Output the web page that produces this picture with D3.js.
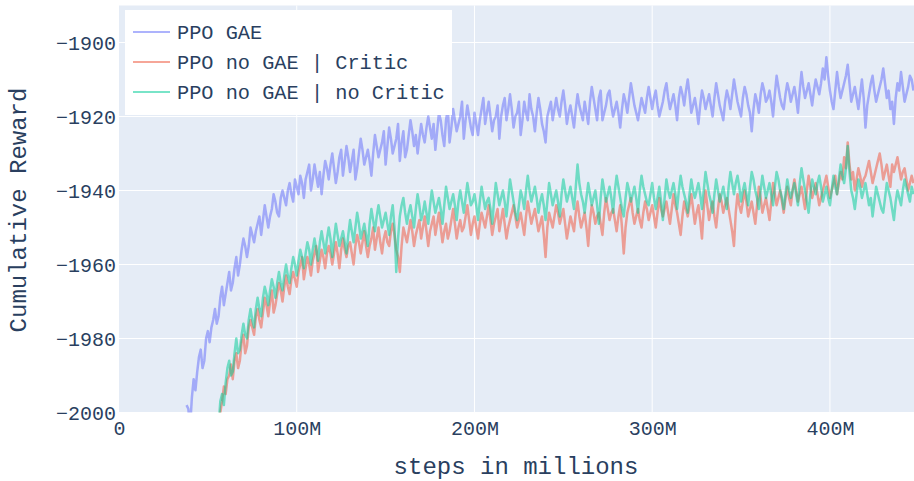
<!DOCTYPE html>
<html>
<head>
<meta charset="utf-8">
<script src="https://cdn.jsdelivr.net/npm/d3@7"></script>
<style>
  html, body { margin: 0; padding: 0; background: #fff; }
  svg { display: block; }
  text { font-family: "Liberation Mono", "DejaVu Sans Mono", monospace; fill: #2a3f5f; }
</style>
</head>
<body>
<svg id="chart" width="914" height="481"></svg>
<script>
// ---- data ----
const seriesNames = ["PPO GAE", "PPO no GAE | Critic", "PPO no GAE | no Critic"];
const stepMillions = 1;          // sampling interval of the runs (millions of steps)
const gaeStart = 38;             // first sampled step (millions)
const criticStart = 56;
const noCriticStart = 56;

const gaeValues = [
  -1998,-1999,-2004,-1996,-1991,-1994,-1989,-1985,-1983,-1988,
  -1986,-1980,-1978,-1981,-1977,-1975,-1972,-1976,-1974,-1969,
  -1966,-1971,-1968,-1965,-1962,-1967,-1965,-1961,-1958,-1963,
  -1960,-1956,-1953,-1955,-1958,-1955,-1950,-1952,-1954,-1951,
  -1949,-1947,-1952,-1948,-1944,-1947,-1950,-1947,-1945,-1941,
  -1943,-1946,-1947,-1942,-1940,-1942,-1944,-1940,-1938,-1941,
  -1943,-1937,-1939,
  -1941,-1936,-1938,-1942,-1937,-1935,-1933,-1940,-1937,-1933,
  -1936,-1939,-1935,-1941,-1936,-1932,-1934,-1937,-1933,-1930,
  -1934,-1938,-1935,-1931,-1929,-1936,-1932,-1928,-1931,-1935,
  -1932,-1929,-1937,-1934,-1930,-1926,-1929,-1933,-1931,-1929,
  -1932,-1936,-1930,-1925,-1928,-1931,-1929,-1927,-1924,-1933,
  -1928,-1923,-1926,-1930,-1928,-1926,-1922,-1932,-1927,-1924,
  -1931,-1929,-1925,-1921,-1924,-1928,-1925,-1930,-1926,-1922,
  -1925,-1927,-1923,-1920,-1923,-1926,-1922,-1929,-1924,-1919,
  -1921,-1925,-1928,-1921,-1918,-1927,-1923,-1918,-1921,-1924,
  -1922,-1920,-1916,-1926,-1921,-1917,-1920,-1923,-1925,-1919,
  -1922,-1925,-1921,-1918,-1915,-1922,-1919,-1916,-1920,-1924,
  -1921,-1920,-1917,-1926,-1920,-1917,-1915,-1921,-1918,-1914,
  -1918,-1923,-1920,-1919,-1916,-1925,-1921,-1916,-1919,-1921,
  -1914,-1918,-1920,-1924,-1919,-1915,-1918,-1922,-1924,-1927,
  -1920,-1918,-1916,-1921,-1918,-1915,-1918,-1920,-1916,-1913,
  -1917,-1922,-1919,-1917,-1920,-1923,-1918,-1914,-1917,-1919,
  -1921,-1916,-1919,-1922,-1916,-1912,-1915,-1918,-1921,-1915,
  -1913,-1921,-1919,-1917,-1914,-1913,-1917,-1920,-1918,-1916,
  -1919,-1923,-1918,-1914,-1916,-1919,-1915,-1911,-1914,-1917,
  -1919,-1921,-1918,-1915,-1917,-1919,-1915,-1912,-1915,-1918,
  -1915,-1913,-1917,-1920,-1918,-1916,-1913,-1911,-1915,-1918,
  -1916,-1914,-1917,-1921,-1915,-1912,-1914,-1917,-1913,-1910,
  -1914,-1919,-1917,-1915,-1918,-1922,-1917,-1913,-1915,-1918,
  -1916,-1914,-1917,-1920,-1915,-1911,-1914,-1917,-1919,-1921,
  -1916,-1913,-1915,-1918,-1914,-1910,-1913,-1916,-1918,-1920,
  -1915,-1912,-1914,-1917,-1919,-1924,-1918,-1914,-1916,-1919,
  -1914,-1911,-1913,-1916,-1915,-1913,-1916,-1920,-1914,-1909,
  -1912,-1915,-1917,-1918,-1914,-1911,-1913,-1916,-1914,-1912,
  -1915,-1919,-1913,-1908,-1912,-1915,-1913,-1911,-1914,-1917,
  -1913,-1910,-1912,-1914,-1911,-1907,-1910,-1904,-1909,-1913,
  -1916,-1918,-1913,-1908,-1912,-1915,-1913,-1911,-1909,-1906,
  -1911,-1916,-1914,-1912,-1915,-1918,-1914,-1910,-1915,-1923,
  -1917,-1914,-1911,-1909,-1913,-1916,-1914,-1912,-1910,-1907,
  -1911,-1915,-1913,-1918,-1916,-1922,-1915,-1911,-1913,-1908,
  -1912,-1916,-1914,-1912,-1909,-1910,-1913
];

const criticValues = [
  -2004,-2000,-1997,-1993,-1995,-1991,-1990,-1987,-1991,-1986,
  -1984,-1988,-1986,-1981,-1979,-1984,-1982,-1977,-1975,-1977,
  -1979,-1974,-1972,-1975,-1977,-1973,-1969,-1971,-1974,-1970,
  -1967,-1973,-1971,-1968,-1965,-1967,-1970,-1966,-1963,-1966,
  -1968,-1964,-1962,-1964,-1966,
  -1962,-1960,-1958,-1964,-1961,-1958,-1960,-1963,-1959,-1957,
  -1955,-1962,-1959,-1956,-1958,-1961,-1957,-1955,-1957,-1960,
  -1957,-1954,-1957,-1961,-1956,-1953,-1956,-1958,-1955,-1954,
  -1957,-1960,-1955,-1952,-1954,-1957,-1954,-1951,-1955,-1958,
  -1955,-1953,-1950,-1956,-1953,-1950,-1954,-1957,-1953,-1951,
  -1954,-1955,-1951,-1949,-1952,-1956,-1958,-1962,-1955,-1950,
  -1952,-1954,-1951,-1948,-1951,-1955,-1952,-1950,-1948,-1953,
  -1950,-1947,-1951,-1955,-1951,-1949,-1947,-1952,-1949,-1946,
  -1950,-1954,-1951,-1949,-1953,-1951,-1948,-1945,-1949,-1953,
  -1950,-1948,-1951,-1950,-1947,-1944,-1948,-1952,-1949,-1947,
  -1950,-1953,-1949,-1946,-1948,-1950,-1947,-1944,-1948,-1952,
  -1949,-1947,-1945,-1951,-1948,-1945,-1949,-1953,-1950,-1948,
  -1946,-1944,-1947,-1950,-1948,-1946,-1949,-1952,-1947,-1943,
  -1946,-1949,-1947,-1945,-1948,-1951,-1949,-1947,-1952,-1958,
  -1950,-1946,-1948,-1950,-1947,-1944,-1946,-1949,-1947,-1945,
  -1949,-1953,-1950,-1947,-1949,-1951,-1946,-1943,-1947,-1950,
  -1948,-1946,-1950,-1955,-1948,-1944,-1946,-1949,-1947,-1946,
  -1949,-1952,-1946,-1942,-1945,-1948,-1946,-1945,-1948,-1951,
  -1947,-1944,-1950,-1957,-1950,-1946,-1944,-1942,-1946,-1949,
  -1947,-1945,-1948,-1950,-1946,-1943,-1945,-1948,-1946,-1944,
  -1947,-1950,-1946,-1942,-1945,-1947,-1945,-1943,-1946,-1949,
  -1945,-1941,-1944,-1946,-1949,-1952,-1947,-1943,-1945,-1947,
  -1944,-1941,-1945,-1949,-1946,-1944,-1948,-1953,-1945,-1940,
  -1944,-1948,-1945,-1943,-1947,-1950,-1945,-1941,-1943,-1946,
  -1944,-1942,-1945,-1948,-1951,-1955,-1946,-1941,-1944,-1946,
  -1943,-1940,-1943,-1947,-1945,-1943,-1946,-1949,-1944,-1939,
  -1942,-1946,-1944,-1942,-1945,-1948,-1943,-1938,-1941,-1944,
  -1942,-1940,-1943,-1946,-1942,-1939,-1942,-1944,-1940,-1937,
  -1940,-1943,-1941,-1939,-1942,-1945,-1940,-1936,-1939,-1942,
  -1940,-1938,-1941,-1944,-1942,-1940,-1938,-1936,-1939,-1942,
  -1940,-1938,-1936,-1941,-1938,-1935,-1937,-1931,-1934,-1927,
  -1933,-1937,-1935,-1940,-1937,-1934,-1936,-1939,-1937,-1936,
  -1934,-1932,-1935,-1938,-1936,-1934,-1932,-1930,-1933,-1937,
  -1935,-1933,-1936,-1939,-1933,-1935,-1933,-1931,-1934,-1937,
  -1935,-1934,-1937,-1940,-1938,-1936,-1938
];

const noCriticValues = [
  -2004,-1997,-1995,-1998,-1992,-1988,-1986,-1990,-1989,-1984,
  -1980,-1984,-1983,-1979,-1976,-1979,-1980,-1975,-1972,-1975,
  -1977,-1972,-1969,-1972,-1974,-1969,-1966,-1968,-1971,-1967,
  -1964,-1966,-1969,-1965,-1962,-1965,-1967,-1963,-1960,-1963,
  -1965,-1961,-1958,-1960,-1963,
  -1959,-1956,-1958,-1961,-1957,-1954,-1956,-1960,-1956,-1953,
  -1956,-1959,-1954,-1951,-1954,-1957,-1953,-1950,-1953,-1958,
  -1953,-1949,-1952,-1955,-1953,-1951,-1954,-1957,-1952,-1948,
  -1951,-1954,-1950,-1946,-1949,-1953,-1951,-1949,-1952,-1955,
  -1949,-1945,-1948,-1951,-1947,-1944,-1947,-1950,-1948,-1946,
  -1949,-1952,-1947,-1944,-1950,-1962,-1953,-1947,-1944,-1942,
  -1946,-1949,-1946,-1944,-1947,-1950,-1945,-1941,-1944,-1948,
  -1946,-1943,-1946,-1949,-1944,-1940,-1943,-1946,-1944,-1942,
  -1945,-1949,-1944,-1939,-1942,-1945,-1943,-1941,-1944,-1948,
  -1943,-1940,-1943,-1946,-1942,-1938,-1941,-1944,-1943,-1941,
  -1944,-1948,-1943,-1939,-1942,-1945,-1943,-1942,-1945,-1949,
  -1943,-1938,-1941,-1944,-1942,-1940,-1943,-1947,-1942,-1937,
  -1940,-1943,-1946,-1948,-1944,-1940,-1942,-1945,-1940,-1936,
  -1940,-1943,-1941,-1939,-1942,-1946,-1943,-1941,-1944,-1948,
  -1943,-1938,-1941,-1944,-1942,-1940,-1943,-1947,-1941,-1937,
  -1940,-1943,-1941,-1939,-1942,-1945,-1939,-1933,-1938,-1941,
  -1943,-1946,-1942,-1938,-1941,-1944,-1942,-1940,-1944,-1949,
  -1942,-1937,-1940,-1943,-1941,-1939,-1942,-1946,-1940,-1936,
  -1939,-1942,-1945,-1947,-1942,-1938,-1940,-1943,-1941,-1939,
  -1942,-1946,-1940,-1936,-1939,-1941,-1943,-1944,-1941,-1938,
  -1942,-1945,-1942,-1939,-1943,-1948,-1942,-1937,-1940,-1942,
  -1940,-1938,-1941,-1945,-1940,-1936,-1939,-1941,-1943,-1946,
  -1941,-1937,-1940,-1942,-1940,-1938,-1941,-1945,-1940,-1935,
  -1938,-1941,-1943,-1946,-1941,-1937,-1940,-1943,-1941,-1939,
  -1942,-1945,-1939,-1935,-1938,-1941,-1938,-1936,-1939,-1943,
  -1940,-1938,-1941,-1944,-1939,-1935,-1937,-1940,-1942,-1945,
  -1940,-1936,-1939,-1942,-1940,-1938,-1941,-1944,-1939,-1935,
  -1937,-1940,-1942,-1945,-1941,-1937,-1940,-1942,-1940,-1938,
  -1941,-1944,-1938,-1934,-1937,-1940,-1943,-1946,-1941,-1937,
  -1939,-1941,-1938,-1936,-1939,-1943,-1941,-1939,-1942,-1944,
  -1940,-1936,-1939,-1941,-1937,-1933,-1936,-1938,-1934,-1928,
  -1935,-1940,-1942,-1945,-1941,-1937,-1939,-1942,-1940,-1938,
  -1941,-1944,-1942,-1947,-1943,-1939,-1941,-1943,-1945,-1946,
  -1942,-1938,-1940,-1942,-1945,-1948,-1943,-1940,-1942,-1944,
  -1940,-1937,-1939,-1941,-1943,-1939,-1941
];

const xTickValues = [0, 100, 200, 300, 400];
const xTickLabels = ["0", "100M", "200M", "300M", "400M"];
const yTickValues = [-2000, -1980, -1960, -1940, -1920, -1900];
const yTickLabels = ["\u22122000", "\u22121980", "\u22121960", "\u22121940", "\u22121920", "\u22121900"];
const xTitle = "steps in millions";
const yTitle = "Cumulative Reward";

// ---- layout ----
const W = 914, H = 481;
const plot = { left: 119, right: 914, top: 5.5, bottom: 412.5 };
const colors = ["#636efa", "#EF553B", "#00cc96"];
const traceOpacity = 0.52;

const svg = d3.select("#chart");
const x = d3.scaleLinear().domain([0, 447.3]).range([plot.left, plot.right]);
const y = d3.scaleLinear().domain([-2000, -1890]).range([plot.bottom, plot.top]);

svg.append("rect").attr("x", 0).attr("y", 0).attr("width", W).attr("height", H).attr("fill", "#fff");
svg.append("rect")
  .attr("x", plot.left).attr("y", plot.top)
  .attr("width", plot.right - plot.left).attr("height", plot.bottom - plot.top)
  .attr("fill", "#e5ecf6");

const grid = svg.append("g");
grid.selectAll("line.gx").data(xTickValues.filter(v => v > 0)).join("line")
  .attr("x1", d => x(d)).attr("x2", d => x(d))
  .attr("y1", plot.top).attr("y2", plot.bottom)
  .attr("stroke", "#fff").attr("stroke-width", 1);
grid.selectAll("line.gy").data(yTickValues).join("line")
  .attr("x1", plot.left).attr("x2", plot.right)
  .attr("y1", d => y(d)).attr("y2", d => y(d))
  .attr("stroke", "#fff").attr("stroke-width", 1);

svg.append("defs").append("clipPath").attr("id", "clip")
  .append("rect").attr("x", plot.left).attr("y", plot.top)
  .attr("width", plot.right - plot.left).attr("height", plot.bottom - plot.top);

const toPoints = (start, vals) => vals.map((v, i) => ({ s: start + i * stepMillions, v }));
const series = [
  toPoints(gaeStart, gaeValues),
  toPoints(criticStart, criticValues),
  toPoints(noCriticStart, noCriticValues)
];

const line = d3.line().x(d => x(d.s)).y(d => y(d.v));
const traces = svg.append("g").attr("clip-path", "url(#clip)");
series.forEach((pts, i) => {
  traces.append("path")
    .attr("d", line(pts))
    .attr("fill", "none")
    .attr("stroke", colors[i])
    .attr("stroke-width", 2.5)
    .attr("stroke-linejoin", "round")
    .attr("opacity", traceOpacity);
});

const xAxis = d3.axisBottom(x).tickValues(xTickValues).tickFormat((d, i) => xTickLabels[i]).tickSize(0).tickPadding(0);
const gx = svg.append("g").attr("transform", `translate(0,${plot.bottom})`).call(xAxis);
gx.select(".domain").remove();
gx.selectAll("text").attr("dy", null).attr("y", 22.5)
  .style("font-family", '"Liberation Mono", "DejaVu Sans Mono", monospace')
  .style("font-size", "20px").attr("fill", "#2a3f5f");

const yAxis = d3.axisLeft(y).tickValues(yTickValues).tickFormat((d, i) => yTickLabels[i]).tickSize(0).tickPadding(0);
const gy = svg.append("g").attr("transform", `translate(${plot.left - 3},0)`).call(yAxis);
gy.select(".domain").remove();
gy.selectAll("text").attr("dy", "0.35em").attr("x", 0)
  .style("font-family", '"Liberation Mono", "DejaVu Sans Mono", monospace')
  .style("font-size", "20px").attr("fill", "#2a3f5f");

svg.append("text").attr("x", (plot.left + plot.right) / 2 - 0.5).attr("y", 474)
  .attr("text-anchor", "middle").style("font-size", "24px").text(xTitle);
svg.append("text")
  .attr("transform", `translate(26,${(plot.top + plot.bottom) / 2 + 1}) rotate(-90)`)
  .attr("text-anchor", "middle").style("font-size", "24px").text(yTitle);

const lg = svg.append("g");
lg.append("rect").attr("x", 125).attr("y", 10).attr("width", 327).attr("height", 105).attr("fill", "#fff");
seriesNames.forEach((name, i) => {
  const ly = 32 + i * 30;
  lg.append("line").attr("x1", 133).attr("x2", 170).attr("y1", ly).attr("y2", ly)
    .attr("stroke", colors[i]).attr("stroke-width", 2).attr("opacity", traceOpacity);
  lg.append("text").attr("x", 177).attr("y", ly).attr("dy", "0.35em")
    .style("font-size", "20.3px").text(name);
});
</script>
</body>
</html>
